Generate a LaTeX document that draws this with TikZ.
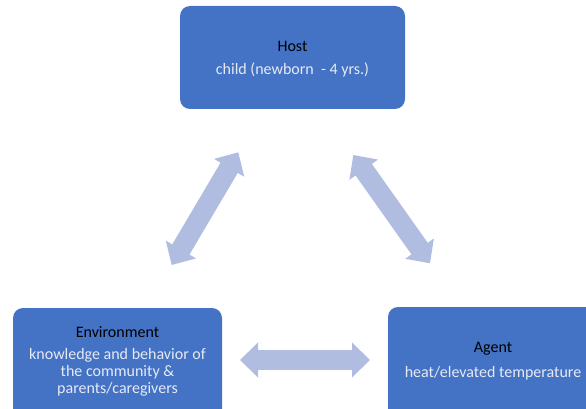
\documentclass[tikz,border=0pt]{standalone}
\usepackage{fontspec}
\setmainfont{Carlito}
\usetikzlibrary{arrows.meta}
\definecolor{boxblue}{HTML}{4472C4}
\definecolor{arrowblue}{HTML}{B0BDE0}
\definecolor{subtext}{HTML}{E6EAF4}
\tikzset{
  box/.style={fill=boxblue, rounded corners=10pt, draw=none},
  titletext/.style={font=\fontsize{16}{17.5}\selectfont, text=black, align=center, inner sep=0pt},
  bodytext/.style={font=\fontsize{16}{17}\selectfont, text=subtext, align=center, inner sep=0pt},
  dblarrow/.style={draw=arrowblue, line width=20pt,
    {Triangle[length=18pt,width=34pt]}-{Triangle[length=18pt,width=34pt]}}
}
\begin{document}
\begin{tikzpicture}[x=1pt,y=-1pt]
\useasboundingbox (0,0) rectangle (586,409);
\clip (0,0) rectangle (586,409);
% boxes
\path[box] (180,6) rectangle (405,109);
\node[inner sep=0pt] (host) at (292.5,57.5) {};
\path[box] (13,308) rectangle (222,440);
\node[inner sep=0pt] (env) at (117.5,360) {};
\path[box] (388,307) rectangle (610,440);
\node[inner sep=0pt] (agent) at (493,360) {};
% texts
\node[titletext] (hosttitle) at (292.5,46) {Host};
\node[bodytext] (hostbody) at (292.5,70) {child (newborn \ - 4 yrs.)};
\node[titletext] (envtitle) at (117.5,332) {Environment};
\node[bodytext] (envbody) at (117.5,372) {knowledge and behavior of\\the community \&\\parents/caregivers};
\node[titletext] (agenttitle) at (493,349) {Agent};
\node[bodytext] (agentbody) at (493,373) {heat/elevated temperature};
% arrow end points
\coordinate (a1) at (171.7,265);
\coordinate (a2) at (238.3,152.3);
\coordinate (b1) at (353.3,155);
\coordinate (b2) at (430,263.3);
\coordinate (c1) at (240,360);
\coordinate (c2) at (370,360);
\draw[dblarrow] (a1) -- (a2);
\draw[dblarrow] (b1) -- (b2);
\draw[dblarrow] (c1) -- (c2);
\end{tikzpicture}
\end{document}
